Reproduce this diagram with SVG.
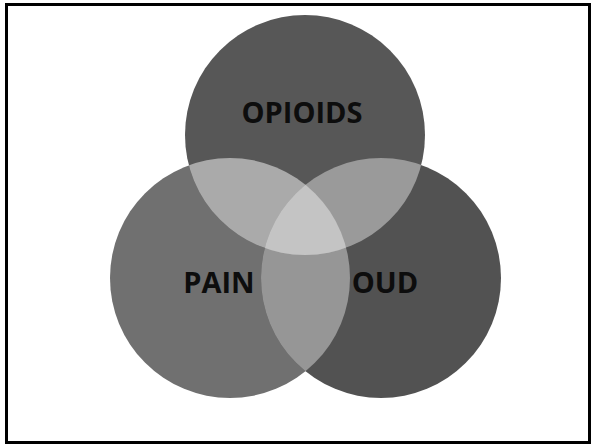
<svg xmlns="http://www.w3.org/2000/svg" width="592" height="445" viewBox="0 0 592 445">
  <style>
    .label { font-family: "Open Sans", "Liberation Sans", sans-serif; font-weight: 700; font-size: 29px; fill: #0d0d0d; text-anchor: middle; }
  </style>
  <defs>
    <clipPath id="clipTop"><circle cx="305" cy="135" r="120"/></clipPath>
    <clipPath id="clipLeft"><circle cx="230" cy="278" r="120"/></clipPath>
    <clipPath id="clipRight"><circle cx="381" cy="278" r="120"/></clipPath>
  </defs>

  <rect x="0" y="0" width="592" height="445" fill="#ffffff"/>
  <rect x="6.5" y="4.5" width="583" height="438" fill="none" stroke="#000000" stroke-width="3"/>

  <g id="node-pain">
    <circle cx="230" cy="278" r="120" fill="#707070"/>
  </g>
  <g id="node-oud">
    <circle cx="381" cy="278" r="120" fill="#525252"/>
  </g>
  <g id="node-opioids">
    <circle cx="305" cy="135" r="120" fill="#575757"/>
  </g>

  <!-- overlap regions -->
  <g id="overlaps">
    <g clip-path="url(#clipLeft)">
      <circle cx="381" cy="278" r="120" fill="#969696"/>
    </g>
    <g clip-path="url(#clipTop)">
      <circle cx="230" cy="278" r="120" fill="#aaaaaa"/>
      <circle cx="381" cy="278" r="120" fill="#9a9a9a"/>
    </g>
    <g clip-path="url(#clipTop)">
      <g clip-path="url(#clipLeft)">
        <circle cx="381" cy="278" r="120" fill="#c4c4c4"/>
      </g>
    </g>
  </g>

  <g id="labels">
    <text class="label" x="302" y="123">OPIOIDS</text>
    <text class="label" x="219" y="293">PAIN</text>
    <text class="label" x="385" y="293">OUD</text>
  </g>
</svg>
